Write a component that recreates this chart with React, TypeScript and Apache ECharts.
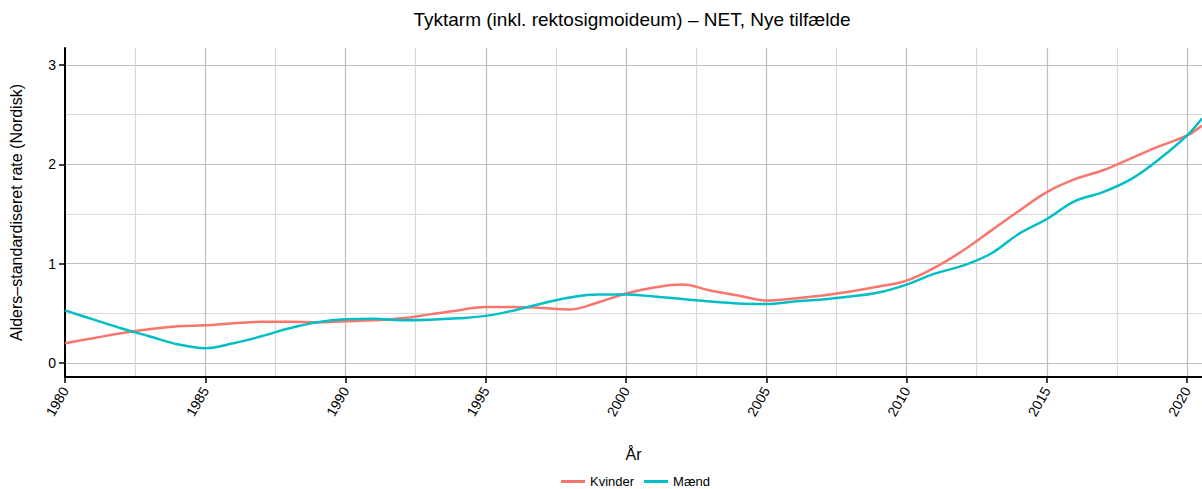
import React, { useEffect, useRef } from "react";
import * as echarts from "echarts";

const title = "Tyktarm (inkl. rektosigmoideum) – NET, Nye tilfælde";
const years = [
  1980, 1981, 1982, 1983, 1984, 1985, 1986, 1987, 1988, 1989,
  1990, 1991, 1992, 1993, 1994, 1995, 1996, 1997, 1998, 1999,
  2000, 2001, 2002, 2003, 2004, 2005, 2006, 2007, 2008, 2009,
  2010, 2011, 2012, 2013, 2014, 2015, 2016, 2017, 2018, 2019,
  2020, 2020.53,
];
const kvinder = [
  0.20, 0.25, 0.30, 0.34, 0.37, 0.38, 0.40, 0.415, 0.415, 0.41,
  0.42, 0.43, 0.45, 0.49, 0.53, 0.565, 0.565, 0.555, 0.54, 0.61,
  0.70, 0.76, 0.79, 0.73, 0.68, 0.63, 0.65, 0.68, 0.72, 0.77,
  0.83, 0.96, 1.13, 1.33, 1.53, 1.72, 1.85, 1.94, 2.06, 2.18,
  2.29, 2.39,
];
const maend = [
  0.53, 0.44, 0.35, 0.27, 0.19, 0.15, 0.20, 0.27, 0.35, 0.41,
  0.44, 0.445, 0.43, 0.435, 0.45, 0.475, 0.53, 0.60, 0.66, 0.69,
  0.69, 0.67, 0.645, 0.62, 0.60, 0.595, 0.62, 0.64, 0.67, 0.71,
  0.79, 0.90, 0.98, 1.10, 1.30, 1.45, 1.63, 1.72, 1.85, 2.05,
  2.29, 2.46,
];
const xTicks = [1980, 1985, 1990, 1995, 2000, 2005, 2010, 2015, 2020];
const xMinor = [1982.5, 1987.5, 1992.5, 1997.5, 2002.5, 2007.5, 2012.5, 2017.5];
const yTicks = [0, 1, 2, 3];
const yMinor = [0.5, 1.5, 2.5];

const FONT = "'Liberation Sans', Arial, sans-serif";

export default function App() {
  const ref = useRef<HTMLDivElement>(null);
  useEffect(() => {
    const chart = echarts.init(ref.current!, null, { renderer: "svg" });
    const xRange = { min: 1980, max: 2020.53 };
    const yRange = { min: -0.14, max: 3.17 };
    const tickText = { fontFamily: FONT, fontSize: 14, color: "#000" };
    chart.setOption({
      animation: false,
      backgroundColor: "#ffffff",
      textStyle: { fontFamily: FONT },
      title: {
        text: title,
        left: 632,
        top: 10,
        padding: 0,
        textAlign: "center",
        textStyle: { fontFamily: FONT, fontSize: 19, fontWeight: "normal", color: "#000" },
      },
      legend: {
        left: 561,
        top: 475,
        padding: 0,
        icon: "rect",
        itemWidth: 24,
        itemHeight: 3,
        itemGap: 10,
        textStyle: { fontFamily: FONT, fontSize: 13, color: "#000" },
        data: ["Kvinder", "Mænd"],
      },
      grid: { left: 58, right: 0, top: 48, bottom: 112, containLabel: false },
      xAxis: [
        {
          type: "value",
          ...xRange,
          name: "År",
          nameLocation: "middle",
          nameGap: 69,
          nameTextStyle: { fontFamily: FONT, fontSize: 16, color: "#000" },
          axisLine: { show: true, onZero: false, lineStyle: { color: "#000", width: 2 } },
          axisTick: { show: true, length: 6, customValues: xTicks, lineStyle: { color: "#000", width: 1.5 } },
          axisLabel: {
            customValues: xTicks,
            rotate: 60,
            margin: 11,
            ...tickText,
            formatter: (v: number) => String(v),
          },
          splitLine: { show: true, lineStyle: { color: "#bdbdbd", width: 1.2 } },
        },
        {
          type: "value",
          ...xRange,
          position: "bottom",
          axisLine: { show: false },
          axisTick: { show: false, customValues: xMinor },
          axisLabel: { show: false, customValues: xMinor },
          splitLine: { show: true, lineStyle: { color: "#d9d9d9", width: 1.2 } },
        },
      ],
      yAxis: [
        {
          type: "value",
          ...yRange,
          name: "Alders–standardiseret rate (Nordisk)",
          nameLocation: "middle",
          nameGap: 41,
          nameTextStyle: { fontFamily: FONT, fontSize: 16, color: "#000" },
          axisLine: { show: true, onZero: false, lineStyle: { color: "#000", width: 2 } },
          axisTick: { show: true, length: 6, customValues: yTicks, lineStyle: { color: "#000", width: 1.5 } },
          axisLabel: {
            customValues: yTicks,
            margin: 9,
            ...tickText,
            formatter: (v: number) => String(v),
          },
          splitLine: { show: true, lineStyle: { color: "#bdbdbd", width: 1.2 } },
        },
        {
          type: "value",
          ...yRange,
          position: "left",
          axisLine: { show: false },
          axisTick: { show: false, customValues: yMinor },
          axisLabel: { show: false, customValues: yMinor },
          splitLine: { show: true, lineStyle: { color: "#d9d9d9", width: 1.2 } },
        },
      ],
      series: [
        {
          name: "Kvinder",
          type: "line",
          data: years.map((y, i) => [y, kvinder[i]]),
          smooth: 0.4,
          showSymbol: false,
          symbol: "none",
          color: "#F8766D",
          lineStyle: { color: "#F8766D", width: 2.5 },
          z: 3,
        },
        {
          name: "Mænd",
          type: "line",
          data: years.map((y, i) => [y, maend[i]]),
          smooth: 0.4,
          showSymbol: false,
          symbol: "none",
          color: "#00BFC4",
          lineStyle: { color: "#00BFC4", width: 2.5 },
          z: 4,
        },
      ],
    });
    return () => chart.dispose();
  }, []);
  return (
    <div
      ref={ref}
      style={{ position: "fixed", left: 0, top: 0, width: 1202, height: 489 }}
    />
  );
}
